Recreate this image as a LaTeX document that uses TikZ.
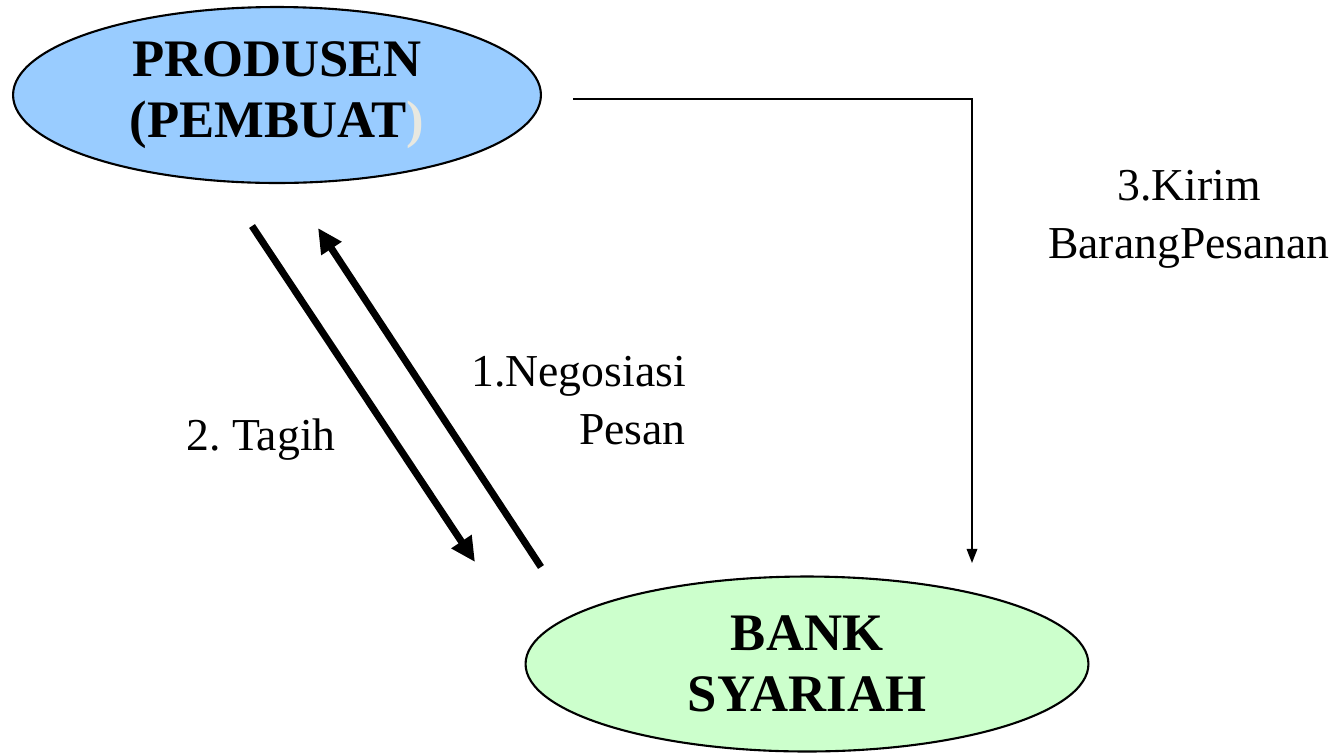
\documentclass[tikz,border=0pt]{standalone}
\usepackage{fontspec}
\setmainfont{Liberation Serif}
\frenchspacing
\usetikzlibrary{shapes.geometric, arrows.meta, positioning}

\definecolor{prodblue}{HTML}{99CCFF}
\definecolor{bankgreen}{HTML}{CCFFCC}
\definecolor{parengrey}{HTML}{E8E8E0}

\begin{document}
\begin{tikzpicture}[
    x=0.02cm, y=-0.02cm,
    party/.style={ellipse, draw=black, line width=1.2pt, inner sep=0pt, align=center, font=\fontsize{30}{35}\selectfont\bfseries},
    steplabel/.style={font=\fontsize{26}{33}\selectfont},
    bigarrow/.style={-{Triangle[length=14pt, width=13pt]}, line width=4pt, black},
    thinarrow/.style={-{Triangle[length=8pt, width=6pt]}, line width=0.9pt, black}
]
\useasboundingbox (0,0) rectangle (1343,755);

\node[party, fill=prodblue, minimum width=10.56cm, minimum height=3.52cm] (produsen) at (277,95) {PRODUSEN\\(PEMBUAT\textcolor{parengrey}{)}};
\node[party, fill=bankgreen, minimum width=11.26cm, minimum height=3.5cm] (bank) at (807,664) {BANK\\SYARIAH};

% free ends of the connectors
\coordinate (tagihstart) at (252,226);
\coordinate (tagihend) at (475,562);
\coordinate (negostart) at (541,567);
\coordinate (negoend) at (318,228);
\coordinate (kirimstart) at (573,99);
\coordinate (kirimend) at (972,563);

\draw[bigarrow] (tagihstart) -- (tagihend);
\draw[bigarrow] (negostart) -- (negoend);
\draw[thinarrow] (kirimstart) -| (kirimend);

\node[steplabel, align=center] (kirimlabel) at (1189,219) {3.Kirim\\BarangPesanan};
\node[steplabel, align=right, anchor=east] (negolabel) at (692,401) {1.Negosiasi\\Pesan};
\node[steplabel] (tagihlabel) at (261,440) {2. Tagih};

\end{tikzpicture}
\end{document}
